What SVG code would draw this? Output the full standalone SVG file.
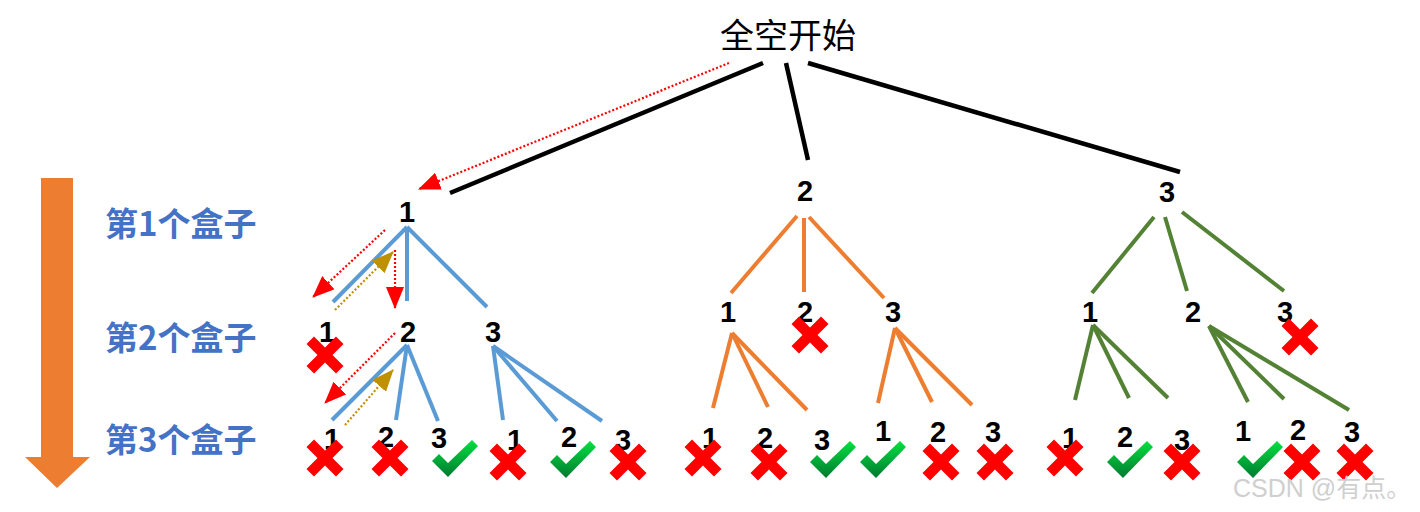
<svg xmlns="http://www.w3.org/2000/svg" xmlns:xlink="http://www.w3.org/1999/xlink" width="1420" height="512" viewBox="0 0 1420 512">
<style>
.num{font-family:"Liberation Sans",Arial,sans-serif;font-weight:bold;font-size:29px;fill:#000;text-anchor:middle}
.lvl{font-family:"Noto Sans CJK SC","Liberation Sans",sans-serif;font-weight:bold;font-size:33px;fill:#4472C4}
.title{font-family:"Noto Sans CJK SC",sans-serif;font-size:34px;fill:#000;text-anchor:middle}
.blk{stroke:#000;stroke-width:4.5;fill:none}
.blu{stroke:#5B9BD5;stroke-width:4;fill:none}
.org{stroke:#ED7D31;stroke-width:4;fill:none}
.grn{stroke:#548235;stroke-width:4;fill:none}
.rd{stroke:#FF0000;stroke-width:2.2;stroke-dasharray:2 2;fill:none;marker-end:url(#ar)}
.gd{stroke:#BF9000;stroke-width:2.2;stroke-dasharray:2 2;fill:none;marker-end:url(#ag)}
.wm{font-family:"Liberation Sans","Noto Sans CJK SC",sans-serif;font-size:25px;fill:#cfcfcf}
</style>
<defs>
<marker id="ar" viewBox="0 0 22 18" markerWidth="22" markerHeight="18" refX="21" refY="9" orient="auto" markerUnits="userSpaceOnUse"><path d="M0,0 L22,9 L0,18 Z" fill="#FF0000"/></marker>
<marker id="ag" viewBox="0 0 22 18" markerWidth="22" markerHeight="18" refX="21" refY="9" orient="auto" markerUnits="userSpaceOnUse"><path d="M0,0 L22,9 L0,18 Z" fill="#BF9000"/></marker>
<g id="xm"><path d="M-18.5,-11 L-11,-18.5 L0,-7.5 L11,-18.5 L18.5,-11 L7.5,0 L18.5,11 L11,18.5 L0,7.5 L-11,18.5 L-18.5,11 L-7.5,0 Z" fill="#FF0000"/></g>
<linearGradient id="cg" x1="0" y1="0" x2="0" y2="1"><stop offset="0" stop-color="#00E040"/><stop offset="1" stop-color="#007A30"/></linearGradient>
<g id="ck"><path d="M-23,2 L-16,-5 L-7,4 L17,-19 L23,-13 L-7,18 Z" fill="url(#cg)"/></g>
</defs>

<g id="timeline">
<path d="M41,178 H73 V457 H90 L57,488 L25,457 H41 Z" fill="#ED7D31"/>
<text class="lvl" x="105" y="236">第1个盒子</text>
<text class="lvl" x="105" y="350">第2个盒子</text>
<text class="lvl" x="105" y="452">第3个盒子</text>
</g>

<g id="root"><text class="title" x="788" y="48">全空开始</text></g>

<g id="connectors">
<line class="blk" x1="763" y1="63" x2="450" y2="193"/>
<line class="blk" x1="786" y1="63" x2="808" y2="160"/>
<line class="blk" x1="808" y1="63" x2="1180" y2="172"/>
<line class="blu" x1="407" y1="227" x2="333" y2="302"/>
<line class="blu" x1="407" y1="227" x2="407" y2="301"/>
<line class="blu" x1="407" y1="227" x2="487" y2="307"/>
<line class="blu" x1="407" y1="345" x2="332" y2="420"/>
<line class="blu" x1="407" y1="345" x2="396" y2="420"/>
<line class="blu" x1="407" y1="345" x2="438" y2="421"/>
<line class="blu" x1="493" y1="346" x2="503" y2="420"/>
<line class="blu" x1="493" y1="346" x2="557" y2="421"/>
<line class="blu" x1="493" y1="346" x2="602" y2="421"/>
<line class="org" x1="797" y1="216" x2="731" y2="293"/>
<line class="org" x1="804" y1="218" x2="804" y2="292"/>
<line class="org" x1="809" y1="217" x2="884" y2="298"/>
<line class="org" x1="732" y1="333" x2="713" y2="408"/>
<line class="org" x1="732" y1="333" x2="768" y2="407"/>
<line class="org" x1="732" y1="333" x2="807" y2="410"/>
<line class="org" x1="895" y1="328" x2="878" y2="403"/>
<line class="org" x1="895" y1="328" x2="932" y2="402"/>
<line class="org" x1="895" y1="328" x2="972" y2="405"/>
<line class="grn" x1="1154" y1="217" x2="1092" y2="293"/>
<line class="grn" x1="1165" y1="217" x2="1187" y2="291"/>
<line class="grn" x1="1182" y1="212" x2="1284" y2="291"/>
<line class="grn" x1="1093" y1="325" x2="1075" y2="400"/>
<line class="grn" x1="1093" y1="325" x2="1129" y2="398"/>
<line class="grn" x1="1093" y1="325" x2="1168" y2="398"/>
<line class="grn" x1="1209" y1="326" x2="1248" y2="402"/>
<line class="grn" x1="1209" y1="326" x2="1284" y2="399"/>
<line class="grn" x1="1209" y1="326" x2="1349" y2="410"/>
<line class="rd" x1="729" y1="63" x2="419" y2="189"/>
<line class="rd" x1="385" y1="230" x2="313" y2="297"/>
<line class="gd" x1="335" y1="310" x2="393" y2="252"/>
<line class="rd" x1="395" y1="250" x2="395" y2="308"/>
<line class="rd" x1="395" y1="333" x2="325" y2="403"/>
<line class="gd" x1="345" y1="425" x2="393" y2="370"/>
</g>

<g id="level1">
<text class="num" x="407" y="222">1</text>
<text class="num" x="805" y="201">2</text>
<text class="num" x="1167" y="202">3</text>
</g>

<g id="level2">
<text class="num" x="327" y="342">1</text><use xlink:href="#xm" x="325" y="355"/>
<text class="num" x="408" y="342">2</text>
<text class="num" x="493" y="342">3</text>
<text class="num" x="728" y="322">1</text>
<text class="num" x="805" y="322">2</text><use xlink:href="#xm" x="810" y="335"/>
<text class="num" x="893" y="322">3</text>
<text class="num" x="1090" y="322">1</text>
<text class="num" x="1193" y="322">2</text>
<text class="num" x="1285" y="322">3</text><use xlink:href="#xm" x="1300" y="337"/>
</g>

<g id="level3">
<text class="num" x="332" y="449">1</text><use xlink:href="#xm" x="325" y="458"/>
<text class="num" x="386" y="447">2</text><use xlink:href="#xm" x="390" y="458"/>
<text class="num" x="439" y="448">3</text><use xlink:href="#ck" x="455" y="459"/>
<text class="num" x="515" y="450">1</text><use xlink:href="#xm" x="508" y="462"/>
<text class="num" x="569" y="447">2</text><use xlink:href="#ck" x="573" y="460"/>
<text class="num" x="623" y="450">3</text><use xlink:href="#xm" x="628" y="462"/>
<text class="num" x="710" y="448">1</text><use xlink:href="#xm" x="703" y="458"/>
<text class="num" x="765" y="448">2</text><use xlink:href="#xm" x="769" y="462"/>
<text class="num" x="822" y="450">3</text><use xlink:href="#ck" x="833" y="460"/>
<text class="num" x="883" y="441">1</text><use xlink:href="#ck" x="883" y="460"/>
<text class="num" x="938" y="442">2</text><use xlink:href="#xm" x="941" y="462"/>
<text class="num" x="993" y="442">3</text><use xlink:href="#xm" x="995" y="462"/>
<text class="num" x="1070" y="448">1</text><use xlink:href="#xm" x="1065" y="458"/>
<text class="num" x="1125" y="447">2</text><use xlink:href="#ck" x="1130" y="460"/>
<text class="num" x="1182" y="450">3</text><use xlink:href="#xm" x="1182" y="462"/>
<text class="num" x="1243" y="441">1</text><use xlink:href="#ck" x="1260" y="460"/>
<text class="num" x="1298" y="440">2</text><use xlink:href="#xm" x="1302" y="462"/>
<text class="num" x="1352" y="442">3</text><use xlink:href="#xm" x="1355" y="462"/>
</g>

<text class="wm" x="1233" y="497">CSDN @有点。</text>
</svg>
